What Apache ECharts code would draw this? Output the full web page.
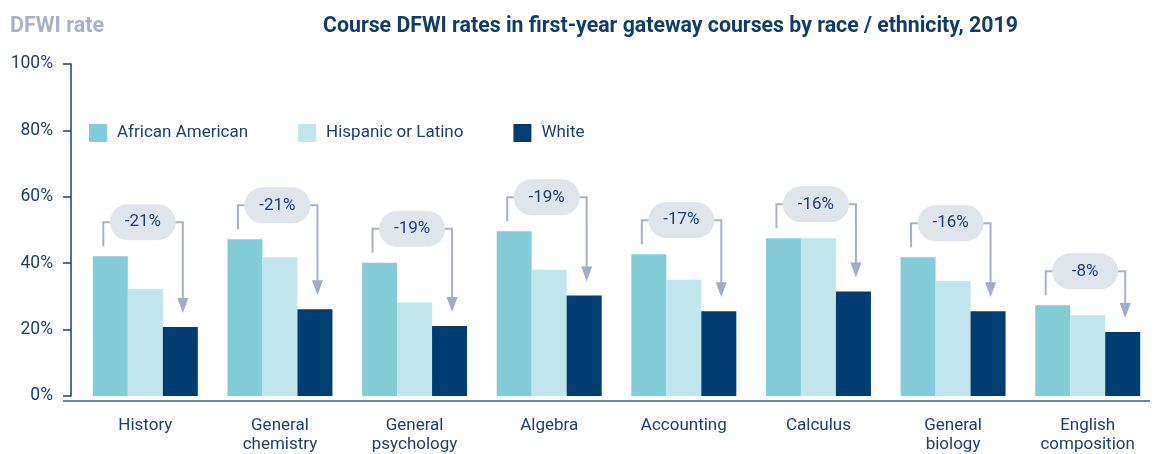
<!DOCTYPE html>
<html>
<head>
<meta charset="utf-8">
<script src="https://cdn.jsdelivr.net/npm/echarts@6/dist/echarts.min.js"></script>
<style>
  html, body { margin: 0; padding: 0; background: #fff; }
  #chart { width: 1155px; height: 454px; }
</style>
</head>
<body>
<div id="chart"></div>
<script>
  // courses on the x axis
  var courses = ['History', 'General\nchemistry', 'General\npsychology', 'Algebra',
                 'Accounting', 'Calculus', 'General\nbiology', 'English\ncomposition'];
  // DFWI rates (%)
  var africanAmerican = [42.1, 47.2, 40.1, 49.6, 42.7, 47.5, 41.8, 27.3];
  var hispanicLatino  = [32.3, 41.8, 28.2, 38.0, 35.0, 47.5, 34.7, 24.3];
  var white           = [20.8, 26.1, 21.1, 30.3, 25.5, 31.5, 25.5, 19.3];
  // gap labels, African American vs White
  var gapLabels = ['-21%', '-21%', '-19%', '-19%', '-17%', '-16%', '-16%', '-8%'];

  var navy = '#1d3f6e';
  var chart = echarts.init(document.getElementById('chart'));

  var gapData = courses.map(function (c, i) {
    return [i, africanAmerican[i], white[i]];
  });

  // bracket + pill + arrow above each course group
  function renderGap(params, api) {
    var i = api.value(0);
    var c = api.coord([i, 0])[0];
    var yA = api.coord([i, api.value(1)])[1];
    var yW = api.coord([i, api.value(2)])[1];
    var yB = yA - 34;
    var lineStyle = { stroke: '#a7b1c9', lineWidth: 2, fill: null };
    return {
      type: 'group',
      children: [
        { type: 'polyline', shape: { points: [[c - 42, yA - 10], [c - 42, yB], [c - 30, yB]] }, style: lineStyle },
        { type: 'polyline', shape: { points: [[c + 25, yB], [c + 37.5, yB], [c + 37.5, yW - 28]] }, style: lineStyle },
        { type: 'polygon', shape: { points: [[c + 32, yW - 29], [c + 43, yW - 29], [c + 37.5, yW - 14]] },
          style: { fill: '#a3acc7' } },
        { type: 'rect', shape: { x: c - 35.5, y: yB - 18, width: 66, height: 36, r: 18 },
          style: { fill: '#dfe5eb' } },
        { type: 'text', x: c - 2.5, y: yB,
          style: { text: gapLabels[params.dataIndex], fill: navy, font: '17px Roboto',
                   align: 'center', verticalAlign: 'middle' } }
      ]
    };
  }

  var option = {
    animation: false,
    textStyle: { fontFamily: 'Roboto' },
    title: [
      { text: 'DFWI rate', left: 5, top: 11,
        textStyle: { color: '#a7b1c8', fontSize: 21.5, fontWeight: 'bold', fontFamily: 'Roboto' } },
      { text: 'Course DFWI rates in first-year gateway courses by race / ethnicity, 2019', left: 318, top: 11,
        textStyle: { color: '#0f3d6e', fontSize: 21.3, fontWeight: 'bold', fontFamily: 'Roboto' } }
    ],
    legend: {
      data: ['African American', 'Hispanic or Latino', 'White'],
      left: 84, top: 119,
      itemWidth: 18, itemHeight: 18, itemGap: 50,
      icon: 'rect',
      textStyle: { color: navy, fontSize: 17, fontFamily: 'Roboto', padding: [0, 0, 0, 5] }
    },
    grid: { left: 78, width: 1082, top: 64, bottom: 53 },
    xAxis: {
      type: 'category',
      data: courses,
      axisLine: { show: false },
      axisTick: { show: false },
      axisLabel: { color: navy, fontSize: 17, lineHeight: 19, margin: 20, interval: 0 }
    },
    yAxis: {
      type: 'value',
      min: 0, max: 100, interval: 20,
      offset: 7,
      splitLine: { show: false },
      axisLine: { show: true, lineStyle: { color: navy, width: 1.5 } },
      axisTick: { show: true, length: 8, lineStyle: { color: navy, width: 1.5 } },
      axisLabel: { color: navy, fontSize: 17.5, margin: 18, formatter: '{value}%' }
    },
    graphic: [
      { type: 'line', shape: { x1: 63, y1: 401, x2: 1150, y2: 401 },
        style: { stroke: navy, lineWidth: 1.5, opacity: 0.85 }, z: 10 }
    ],
    series: [
      { name: 'African American', type: 'bar', data: africanAmerican, barWidth: 35, barGap: '0%',
        itemStyle: { color: '#82cdd8' } },
      { name: 'Hispanic or Latino', type: 'bar', data: hispanicLatino, barWidth: 35, barGap: '0%',
        itemStyle: { color: '#c0e5eb' } },
      { name: 'White', type: 'bar', data: white, barWidth: 35, barGap: '0%',
        itemStyle: { color: '#003d70' } },
      { name: 'gap', type: 'custom', data: gapData, renderItem: renderGap,
        encode: { x: 0, y: 1 }, clip: false, z: 5, silent: true }
    ]
  };

  chart.setOption(option);
</script>
</body>
</html>
